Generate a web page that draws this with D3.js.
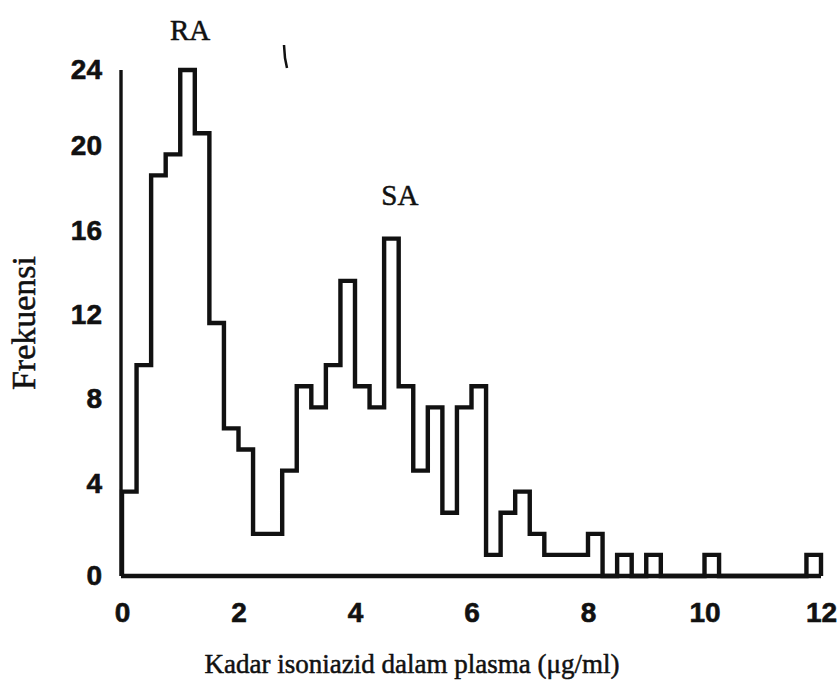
<!DOCTYPE html>
<html>
<head>
<meta charset="utf-8">
<script src="https://cdn.jsdelivr.net/npm/d3@7/dist/d3.min.js"></script>
<style>
  body { margin: 0; background: #fff; }
  svg { display: block; }
</style>
</head>
<body>
<svg id="chart" width="839" height="684"></svg>
<script>
// Frequency of plasma isoniazid levels, bins of 0.25 µg/ml starting at 0
const binWidth = 0.25;
const frequencies = [
  4, 10, 19, 20, 24, 21, 12, 7,
  6, 2, 2, 5, 9, 8, 10, 14,
  9, 8, 16, 9, 5, 8, 3, 8,
  9, 1, 3, 4, 2, 1, 1, 1,
  2, 0, 1, 0, 1, 0, 0, 0,
  1, 0, 0, 0, 0, 0, 0, 1
];
const xTicks = [0, 2, 4, 6, 8, 10, 12];
const yTicks = [0, 4, 8, 12, 16, 20, 24];
const modeLabels = ["RA", "SA"];
const modeCentres = [1.17, 4.77];
const xTitle = "Kadar isoniazid dalam plasma (\u03bcg/ml)";
const yTitle = "Frekuensi";

const svg = d3.select("#chart");
const ink = "#111";
const serif = "'Liberation Serif', 'Times New Roman', serif";
const sans = "'Liberation Sans', Arial, sans-serif";

const x = d3.scaleLinear().domain([0, 12]).range([122, 821]);
const y = d3.scaleLinear().domain([0, 24]).range([576, 70]);

// step outline of the histogram
const pts = [[0, 0]];
frequencies.forEach((f, i) => {
  pts.push([i * binWidth, f]);
  pts.push([(i + 1) * binWidth, f]);
});
pts.push([frequencies.length * binWidth, 0]);

const line = d3.line().x(d => x(d[0])).y(d => y(d[1]));

svg.append("path")
  .attr("d", line(pts))
  .attr("fill", "none")
  .attr("stroke", ink)
  .attr("stroke-width", 4.4)
  .attr("stroke-linejoin", "miter");

// baseline and vertical axis line
svg.append("line")
  .attr("x1", x(0) - 1).attr("x2", x(12))
  .attr("y1", y(0)).attr("y2", y(0))
  .attr("stroke", ink).attr("stroke-width", 4.4);
svg.append("line")
  .attr("x1", x(0) - 1).attr("x2", x(0) - 1)
  .attr("y1", y(0)).attr("y2", y(24))
  .attr("stroke", ink).attr("stroke-width", 3.4);

// axes: labels only, no tick marks or domain lines
const xAxis = d3.axisBottom(x).tickValues(xTicks).tickSize(0).tickPadding(0).tickFormat(d3.format("d"));
const gx = svg.append("g").attr("transform", `translate(0,${y(0)})`).call(xAxis);
gx.select(".domain").remove();
gx.selectAll("text")
  .attr("y", 46)
  .attr("dy", null)
  .attr("fill", ink)
  .attr("stroke", ink)
  .attr("stroke-width", 0.6)
  .style("font-family", sans)
  .style("font-weight", "bold")
  .style("font-size", "28px");

const yAxis = d3.axisLeft(y).tickValues(yTicks).tickSize(0).tickPadding(0).tickFormat(d3.format("d"));
const gy = svg.append("g").attr("transform", `translate(${x(0)},0)`).call(yAxis);
gy.select(".domain").remove();
gy.selectAll("text")
  .attr("x", -20)
  .attr("dy", (d) => (d === 0 || d === 24) ? "0.32em" : "0.02em")
  .attr("fill", ink)
  .attr("stroke", ink)
  .attr("stroke-width", 0.6)
  .style("font-family", sans)
  .style("font-weight", "bold")
  .style("font-size", "28px");

// axis titles
svg.append("text")
  .attr("x", 412).attr("y", 673)
  .attr("text-anchor", "middle")
  .attr("fill", ink)
  .attr("stroke", ink)
  .attr("stroke-width", 0.5)
  .style("font-family", serif)
  .style("font-size", "27px")
  .text(xTitle);

svg.append("text")
  .attr("transform", "translate(35,323) rotate(-90)")
  .attr("text-anchor", "middle")
  .attr("fill", ink)
  .attr("stroke", ink)
  .attr("stroke-width", 0.5)
  .style("font-family", serif)
  .style("font-size", "34px")
  .text(yTitle);

// mode annotations
svg.selectAll("text.mode")
  .data(modeLabels)
  .join("text")
  .attr("class", "mode")
  .attr("x", (d, i) => x(modeCentres[i]))
  .attr("y", (d, i) => i === 0 ? 40 : 205)
  .attr("text-anchor", "middle")
  .attr("fill", ink)
  .attr("stroke", ink)
  .attr("stroke-width", 0.5)
  .style("font-family", serif)
  .style("font-size", "29px")
  .text(d => d);

// small stray stroke near the top
svg.append("path")
  .attr("d", "M284,45 L285,58 L287,68")
  .attr("fill", "none")
  .attr("stroke", ink)
  .attr("stroke-width", 2.5);
</script>
</body>
</html>
